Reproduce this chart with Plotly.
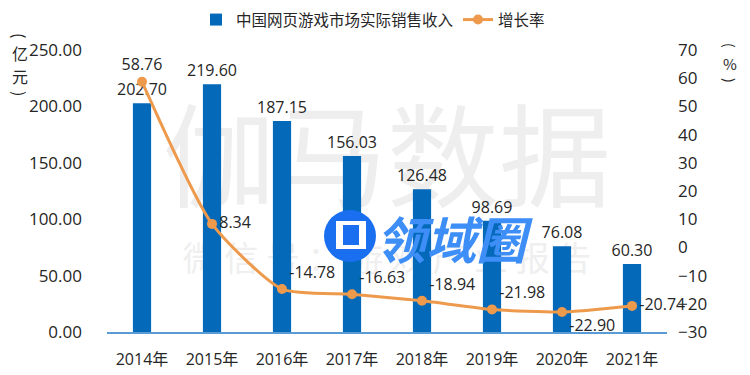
import plotly.graph_objects as go

years = ["2014年", "2015年", "2016年", "2017年", "2018年", "2019年", "2020年", "2021年"]
revenue = [202.70, 219.60, 187.15, 156.03, 126.48, 98.69, 76.08, 60.30]
growth = [58.76, 8.34, -14.78, -16.63, -18.94, -21.98, -22.90, -20.74]
growth_pos = ["top center", "middle right", "top right", "top right",
              "top right", "top right", "bottom right", "middle right"]

FONT = "Open Sans, Noto Sans CJK SC"
CJK = "Noto Sans CJK SC"
BLUE = "#0469B9"
ORANGE = "#EE9A4D"
TXT = "#262626"

# page body adds an 8px offset; figure sized to fit inside the 750x375 window
W, H = 734, 362

fig = go.Figure()
fig.add_trace(go.Bar(
    x=years, y=revenue, name="中国网页游戏市场实际销售收入",
    marker=dict(color=BLUE, line=dict(width=0)),
    text=[f"{v:.2f}" for v in revenue], textposition="outside", constraintext="none",
    textfont=dict(size=16, color=TXT, family=FONT), cliponaxis=False,
))
fig.add_trace(go.Scatter(
    x=years, y=growth, name="增长率", yaxis="y2", mode="lines+markers+text",
    line=dict(color=ORANGE, width=3, shape="spline", smoothing=0.6),
    marker=dict(color=ORANGE, size=10),
    text=[f"{v:.2f}" for v in growth], textposition=growth_pos,
    textfont=dict(size=16, color=TXT, family=FONT), cliponaxis=False,
))


def px_x(px):
    return (px - 107) / 560


def px_y(py):
    return (332 - py) / 282


annots = [
    dict(text="<i><b>领域圈</b></i>", x=px_x(454), y=px_y(237),
         font=dict(size=50, color="#3D8EF7", family=CJK)),
]
for ch, xx, yy, ang, fs in [("(", 20, 35, 90, 16), ("亿", 20, 53, 0, 16), ("元", 20, 76, 0, 16),
                            (")", 20, 93, 90, 16),
                            ("(", 730, 45, 90, 14), ("%", 730, 63, 0, 15), (")", 730, 80, 90, 14)]:
    annots.append(dict(text=ch, x=px_x(xx), y=px_y(yy), textangle=ang,
                       font=dict(size=fs, color=TXT, family=CJK)))
for a in annots:
    a.update(xref="paper", yref="paper", showarrow=False, xanchor="center", yanchor="middle")

fig.update_layout(
    width=W, height=H,
    margin=dict(l=99, r=75, t=42, b=H - 324, autoexpand=False),
    paper_bgcolor="white", plot_bgcolor="white",
    font=dict(family=FONT, size=16, color=TXT),
    bargap=0.74,
    showlegend=True,
    legend=dict(orientation="h", xref="container", yref="container",
                x=365 / W, xanchor="center", y=1 - 12 / H, yanchor="middle",
                font=dict(size=15.5, color=TXT, family=CJK),
                itemwidth=30, tracegroupgap=0, bgcolor="rgba(0,0,0,0)"),
    xaxis=dict(showgrid=False, showline=True, linecolor="#5B9BD5", linewidth=1.5,
               ticks="", tickfont=dict(size=16, color=TXT, family=FONT), ticklabelstandoff=12),
    yaxis=dict(range=[0, 250], dtick=50, tickformat=".2f", showgrid=False,
               zeroline=False, showline=False, ticks="",
               tickfont=dict(size=17, color=TXT, family=FONT), ticklabelstandoff=24),
    yaxis2=dict(range=[-30, 70], dtick=10, overlaying="y", side="right",
                showgrid=False, zeroline=False, showline=False, ticks="",
                tickfont=dict(size=17, color=TXT, family=FONT), ticklabelstandoff=10),
    shapes=[
        dict(type="rect", xref="paper", yref="paper", x0=0.0, x1=1.0, y0=0.38, y1=0.78,
             layer="below", line=dict(width=0), fillcolor="rgba(0,0,0,0)",
             label=dict(text="伽马数据", font=dict(size=112, color="#EEEEEE", family=CJK),
                        textposition="middle center")),
        dict(type="rect", xref="paper", yref="paper", x0=0.0, x1=1.0, y0=0.16, y1=0.34,
             layer="below", line=dict(width=0), fillcolor="rgba(0,0,0,0)",
             label=dict(text="微 信 号 ： 游 戏 产 业 报 告",
                        font=dict(size=34, color="#EFEFEF", family=CJK),
                        textposition="middle center")),
        dict(type="circle", xref="paper", yref="paper",
             x0=px_x(324), x1=px_x(376), y0=px_y(262), y1=px_y(210),
             layer="above", line=dict(width=0), fillcolor="#1A6FF0"),
        dict(type="rect", xref="paper", yref="paper",
             x0=px_x(336), x1=px_x(366), y0=px_y(249), y1=px_y(221),
             layer="above", line=dict(width=0), fillcolor="white"),
        dict(type="rect", xref="paper", yref="paper",
             x0=px_x(343), x1=px_x(359), y0=px_y(245), y1=px_y(225),
             layer="above", line=dict(width=0), fillcolor="#1A6FF0"),
    ],
    annotations=annots,
)

fig.write_html("out.html")
